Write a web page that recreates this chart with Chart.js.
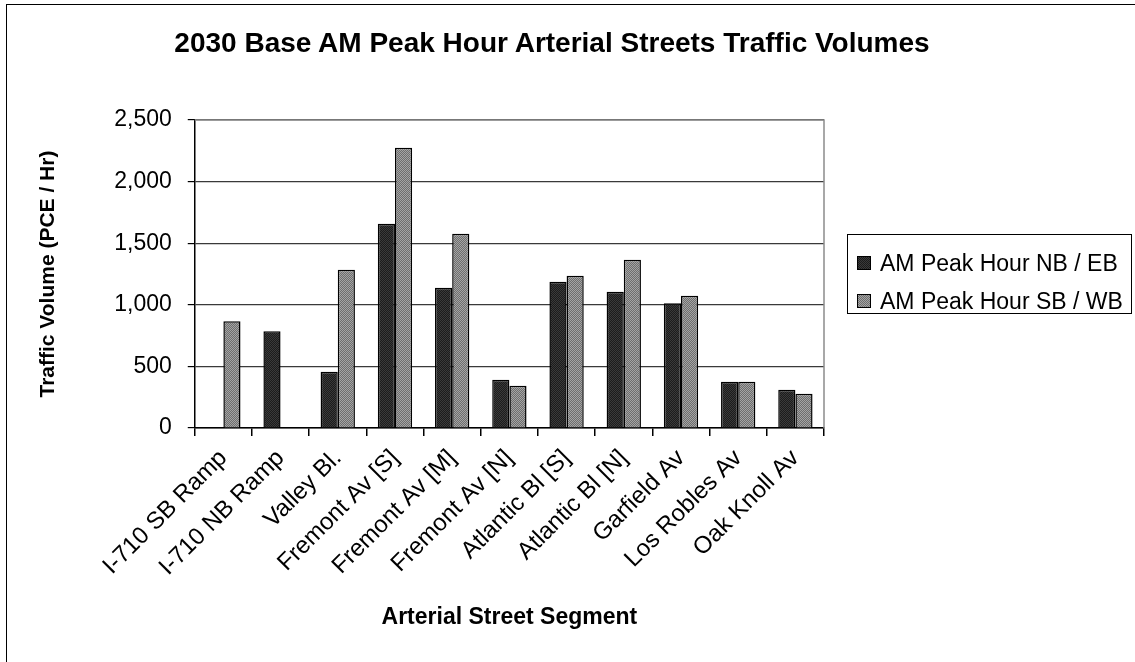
<!DOCTYPE html>
<html>
<head>
<meta charset="utf-8">
<script src="https://cdn.jsdelivr.net/npm/chart.js@4.4.1/dist/chart.umd.min.js"></script>
<style>
  html, body { margin: 0; padding: 0; background: #fff; overflow: hidden; }
  #wrap { position: relative; width: 1135px; height: 662px; font-family: 'Liberation Sans', Arial, sans-serif; }
  #frame { position: absolute; left: 6px; top: 4px; width: 1400px; height: 900px; border: 1.5px solid #000; box-sizing: border-box; }
  canvas#trafficChart { position: absolute; left: 0; top: 0; }
  #title { position: absolute; left: 0; top: 26px; width: 1104px; text-align: center; font-size: 28px; line-height: 34px; font-weight: bold; color: #000; }
  #legend { position: absolute; border: 1px solid #000; background: #fff; box-sizing: border-box; padding: 9px 0 0 9px; }
  .item { display: flex; align-items: center; height: 38px; font-size: 23px; color: #000; white-space: nowrap; }
  .item canvas { margin-right: 9px; }
</style>
</head>
<body>
<div id="wrap">
  <div id="frame"></div>
  <canvas id="trafficChart" width="1135" height="662"></canvas>
  <div id="title">2030 Base AM Peak Hour Arterial Streets Traffic Volumes</div>
  <div id="legend"></div>
</div>
<script>
// Street segments along the x axis
const segments = [
  'I-710 SB Ramp', 'I-710 NB Ramp', 'Valley Bl.', 'Fremont Av [S]', 'Fremont Av [M]',
  'Fremont Av [N]', 'Atlantic Bl [S]', 'Atlantic Bl [N]', 'Garfield Av', 'Los Robles Av', 'Oak Knoll Av'
];

// AM peak hour volumes (PCE / Hr)
const nbEb = [null, 785, 457, 1658, 1139, 392, 1188, 1107, 1012, 376, 311];
const sbWb = [866, null, 1285, 2275, 1577, 343, 1236, 1366, 1074, 376, 278];

const seriesNames = ['AM Peak Hour NB / EB', 'AM Peak Hour SB / WB'];
const yTicks = [0, 500, 1000, 1500, 2000, 2500];

const FONT = "'Liberation Sans', Arial, sans-serif";

// small checker texture like the old Excel fill patterns
function makePattern(g, c1, c2) {
  const p = document.createElement('canvas');
  p.width = 2;
  p.height = 2;
  const pg = p.getContext('2d');
  pg.fillStyle = c1;
  pg.fillRect(0, 0, 2, 2);
  pg.fillStyle = c2;
  pg.fillRect(0, 0, 1, 1);
  pg.fillRect(1, 1, 1, 1);
  return g.createPattern(p, 'repeat');
}

const fillColors = [['#1c1c1c', '#3a3a3a'], ['#6e6e6e', '#a4a4a4']];

const ctx = document.getElementById('trafficChart').getContext('2d');
const darkFill = makePattern(ctx, ...fillColors[0]);
const grayFill = makePattern(ctx, ...fillColors[1]);

// gray frame on top/right of plot
const framePlugin = {
  id: 'framePlugin',
  afterDraw(chart) {
    const c = chart.ctx;
    const a = chart.chartArea;
    c.save();
    c.strokeStyle = '#8c8c8c';
    c.lineWidth = 1.5;
    c.beginPath();
    c.moveTo(a.left, a.top);
    c.lineTo(a.right, a.top);
    c.lineTo(a.right, a.bottom);
    c.stroke();
    c.restore();
  }
};

const chart = new Chart(ctx, {
  type: 'bar',
  data: {
    labels: segments,
    datasets: [
      {
        label: seriesNames[0],
        data: nbEb,
        backgroundColor: darkFill,
        borderColor: '#000',
        borderWidth: 1.5,
        borderSkipped: 'bottom'
      },
      {
        label: seriesNames[1],
        data: sbWb,
        backgroundColor: grayFill,
        borderColor: '#000',
        borderWidth: 1.5,
        borderSkipped: 'bottom'
      }
    ]
  },
  options: {
    responsive: false,
    animation: false,
    devicePixelRatio: 1,
    layout: {
      padding: { left: 36, right: 311, top: 120, bottom: 31 }
    },
    datasets: {
      bar: { categoryPercentage: 0.6, barPercentage: 1.0 }
    },
    plugins: {
      legend: { display: false },
      tooltip: { enabled: false }
    },
    scales: {
      x: {
        offset: true,
        grid: {
          offset: true,
          drawOnChartArea: false,
          drawTicks: true,
          tickLength: 8,
          color: '#000',
          lineWidth: 1.5
        },
        border: { color: '#000', width: 1.5 },
        ticks: {
          color: '#000',
          font: { family: FONT, size: 24 },
          minRotation: 45,
          maxRotation: 45,
          autoSkip: false,
          padding: 8
        },
        title: {
          display: true,
          text: 'Arterial Street Segment',
          color: '#000',
          font: { family: FONT, size: 23, weight: 'bold' },
          padding: { top: 14, bottom: 0 }
        }
      },
      y: {
        min: 0,
        max: 2500,
        afterBuildTicks(axis) {
          axis.ticks = yTicks.map(v => ({ value: v }));
        },
        grid: {
          color: '#3a3a3a',
          lineWidth: 1.2,
          tickLength: 7,
          tickColor: '#000'
        },
        border: { color: '#000', width: 1.5 },
        ticks: {
          color: '#000',
          font: { family: FONT, size: 23 },
          padding: 16,
          callback: v => v.toLocaleString('en-US')
        },
        title: {
          display: true,
          text: 'Traffic Volume (PCE / Hr)',
          color: '#000',
          font: { family: FONT, size: 21, weight: 'bold' },
          padding: { top: 0, bottom: 37 }
        }
      }
    }
  },
  plugins: [framePlugin]
});

// legend box to the right of the plot, built from the dataset names/fills
const legendEl = document.getElementById('legend');
chart.data.datasets.forEach((ds, i) => {
  const row = document.createElement('div');
  row.className = 'item';
  const sw = document.createElement('canvas');
  sw.width = 14;
  sw.height = 14;
  const sg = sw.getContext('2d');
  sg.fillStyle = makePattern(sg, ...fillColors[i]);
  sg.fillRect(0, 0, 14, 14);
  sg.strokeStyle = '#000';
  sg.lineWidth = 1;
  sg.strokeRect(0.5, 0.5, 13, 13);
  row.appendChild(sw);
  row.appendChild(document.createTextNode(ds.label));
  legendEl.appendChild(row);
});
const area = chart.chartArea;
const legendH = 80;
legendEl.style.left = (area.right + 23) + 'px';
legendEl.style.top = Math.round((area.top + area.bottom) / 2 - legendH / 2) + 'px';
legendEl.style.width = '285px';
legendEl.style.height = legendH + 'px';
</script>
</body>
</html>
